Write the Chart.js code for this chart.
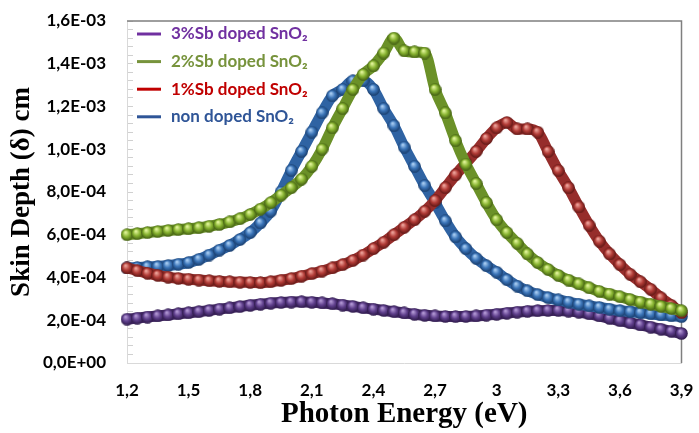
<!DOCTYPE html>
<html>
<head>
<meta charset="utf-8">
<title>Skin Depth vs Photon Energy</title>
<script src="https://cdn.jsdelivr.net/npm/chart.js@4.4.0/dist/chart.umd.min.js"></script>
<style>
  html, body { margin: 0; padding: 0; background: #fff; }
  canvas { display: block; }
</style>
</head>
<body>
<canvas id="skinChart" width="699" height="433"></canvas>
<script>
// Photon energy (eV)
const energy = [1.2, 1.25, 1.3, 1.35, 1.4, 1.45, 1.5, 1.55, 1.6, 1.65, 1.7, 1.75, 1.8, 1.85, 1.9, 1.95,
    2.0, 2.05, 2.1, 2.15, 2.2, 2.25, 2.3, 2.35, 2.4, 2.45, 2.5, 2.55, 2.6, 2.65, 2.7, 2.75, 2.8, 2.85,
    2.9, 2.95, 3.0, 3.05, 3.1, 3.15, 3.2, 3.25, 3.3, 3.35, 3.4, 3.45, 3.5, 3.55, 3.6, 3.65, 3.7, 3.75,
    3.8, 3.85, 3.9];

// Skin depth, in units of 1E-04 cm
const sb3 = [2.05, 2.10, 2.15, 2.20, 2.25, 2.30, 2.35, 2.40, 2.46, 2.52, 2.58, 2.64, 2.70, 2.75, 2.80, 2.83,
    2.85, 2.86, 2.84, 2.81, 2.77, 2.71, 2.65, 2.58, 2.52, 2.46, 2.40, 2.34, 2.28, 2.23, 2.20, 2.18, 2.17, 2.18,
    2.20, 2.24, 2.28, 2.33, 2.38, 2.42, 2.45, 2.46, 2.46, 2.43, 2.38, 2.30, 2.20, 2.09, 1.98, 1.88, 1.78, 1.68,
    1.58, 1.48, 1.38];
const sb2 = [6.00, 6.05, 6.10, 6.15, 6.20, 6.24, 6.28, 6.33, 6.40, 6.48, 6.60, 6.75, 6.95, 7.20, 7.50, 7.85,
    8.20, 8.60, 9.20, 10.0, 11.0, 11.9, 12.8, 13.5, 13.9, 14.5, 15.2, 14.6, 14.55, 14.5, 12.8, 11.7, 10.4, 9.3,
    8.4, 7.5, 6.7, 6.1, 5.6, 5.1, 4.7, 4.38, 4.1, 3.88, 3.7, 3.52, 3.35, 3.22, 3.1, 2.97, 2.85, 2.75,
    2.65, 2.55, 2.45];
const sb1 = [4.45, 4.32, 4.20, 4.10, 4.02, 3.96, 3.92, 3.88, 3.85, 3.82, 3.80, 3.78, 3.77, 3.76, 3.80, 3.87,
    3.95, 4.06, 4.18, 4.30, 4.45, 4.60, 4.80, 5.05, 5.35, 5.65, 6.00, 6.35, 6.70, 7.10, 7.60, 8.20, 8.80, 9.35,
    9.90, 10.5, 11.0, 11.25, 10.95, 10.95, 10.8, 9.9, 9.0, 8.2, 7.3, 6.45, 5.7, 5.1, 4.6, 4.15, 3.8, 3.45,
    3.05, 2.7, 2.35];
const nonDoped = [4.45, 4.47, 4.50, 4.52, 4.56, 4.62, 4.70, 4.85, 5.05, 5.28, 5.50, 5.78, 6.10, 6.55, 7.10, 8.00,
    9.00, 9.90, 10.8, 11.7, 12.5, 12.8, 13.2, 13.2, 12.8, 11.9, 11.1, 10.1, 9.2, 8.3, 7.5, 6.65, 5.9, 5.35,
    4.9, 4.55, 4.25, 3.9, 3.6, 3.38, 3.2, 3.06, 2.95, 2.85, 2.75, 2.67, 2.6, 2.52, 2.45, 2.40, 2.35, 2.30,
    2.25, 2.21, 2.17];

const seriesLabels = ['3%Sb doped SnO\u2082', '2%Sb doped SnO\u2082', '1%Sb doped SnO\u2082', 'non doped SnO\u2082'];

const xTickValues = [1.2, 1.5, 1.8, 2.1, 2.4, 2.7, 3.0, 3.3, 3.6, 3.9];
const xTickLabels = ['1,2', '1,5', '1,8', '2,1', '2,4', '2,7', '3', '3,3', '3,6', '3,9'];
const yTickValues = [0, 2, 4, 6, 8, 10, 12, 14, 16];
const yTickLabels = ['0,0E+00', '2,0E-04', '4,0E-04', '6,0E-04', '8,0E-04', '1,0E-03', '1,2E-03', '1,4E-03', '1,6E-03'];

// Small shaded sphere used as the marker
function bead(light, base, dark) {
    const c = document.createElement('canvas');
    c.width = 13;
    c.height = 13;
    const g = c.getContext('2d');
    const grad = g.createRadialGradient(5, 4, 0.5, 6.5, 6.5, 6.5);
    grad.addColorStop(0, light);
    grad.addColorStop(0.5, base);
    grad.addColorStop(1, dark);
    g.fillStyle = grad;
    g.beginPath();
    g.arc(6.5, 6.5, 6.3, 0, Math.PI * 2);
    g.fill();
    return c;
}

function makeSeries(label, values, legendColor, lineColor, marker, order) {
    return {
        label: label,
        data: energy.map((x, i) => ({ x: x, y: values[i] })),
        showLine: true,
        borderColor: lineColor,
        borderWidth: 11,
        cubicInterpolationMode: 'monotone',
        pointStyle: marker,
        pointRadius: 6.5,
        legendColor: legendColor,
        order: order,
        clip: false
    };
}

// Frame on the top and right of the plot area
const framePlugin = {
    id: 'frame',
    beforeDatasetsDraw(chart) {
        const { ctx, chartArea: a } = chart;
        ctx.save();
        ctx.strokeStyle = '#7f7f7f';
        ctx.lineWidth = 1.5;
        ctx.beginPath();
        ctx.moveTo(a.left, a.top);
        ctx.lineTo(a.right, a.top);
        ctx.lineTo(a.right, a.bottom);
        ctx.stroke();
        ctx.restore();
    }
};

// Legend inside the plot, top left, text in the series colour
const insideLegend = {
    id: 'insideLegend',
    afterDatasetsDraw(chart) {
        const { ctx, chartArea: a } = chart;
        ctx.save();
        ctx.font = 'bold 17px Lato';
        ctx.textBaseline = 'middle';
        ctx.textAlign = 'left';
        chart.data.datasets.forEach((ds, i) => {
            const y = a.top + 13 + i * 27.6;
            ctx.strokeStyle = ds.legendColor;
            ctx.lineWidth = 3;
            ctx.beginPath();
            ctx.moveTo(a.left + 10, y);
            ctx.lineTo(a.left + 34, y);
            ctx.stroke();
            ctx.fillStyle = ds.legendColor;
            ctx.fillText(ds.label, a.left + 44, y);
        });
        ctx.restore();
    }
};

const tickFont = { family: 'Lato', weight: 'bold', size: 17 };

new Chart(document.getElementById('skinChart'), {
    type: 'scatter',
    data: {
        datasets: [
            makeSeries(seriesLabels[0], sb3, '#7030a0', '#452a66', bead('#b49ad6', '#5f3f8c', '#2a1745'), 3),
            makeSeries(seriesLabels[1], sb2, '#77933c', '#6b9128', bead('#e2f59a', '#86b22f', '#3d5810'), 0),
            makeSeries(seriesLabels[2], sb1, '#c00000', '#962d2b', bead('#eea59c', '#b23b36', '#5a1513'), 1),
            makeSeries(seriesLabels[3], nonDoped, '#2f5597', '#2f63a3', bead('#a9cdf2', '#3a74b8', '#173a68'), 2)
        ]
    },
    options: {
        responsive: false,
        animation: false,
        events: [],
        layout: { padding: { left: 0, top: 21, right: 14, bottom: 0 } },
        scales: {
            x: {
                type: 'linear',
                min: 1.2,
                max: 3.9,
                afterBuildTicks: scale => { scale.ticks = xTickValues.map(v => ({ value: v })); },
                afterFit: scale => {
                    scale.height = 70;
                    scale.paddingLeft = 0;
                    scale.paddingRight = 0;
                },
                ticks: {
                    autoSkip: false,
                    maxRotation: 0,
                    padding: 17,
                    color: '#000',
                    font: tickFont,
                    callback: (value, index) => xTickLabels[index]
                },
                grid: { drawOnChartArea: false, drawTicks: false },
                border: { color: '#d9d9d9', width: 1 },
                title: {
                    display: true,
                    text: 'Photon Energy (eV)',
                    color: '#000',
                    font: { family: 'Liberation Serif', weight: 'bold', size: 29 },
                    padding: { top: 0, bottom: 1 }
                }
            },
            y: {
                min: 0,
                max: 16,
                afterBuildTicks: scale => {
                    const ticks = [];
                    for (let v = 0; v <= 16.001; v += 0.4) ticks.push({ value: Math.round(v * 10) / 10 });
                    scale.ticks = ticks;
                },
                afterFit: scale => {
                    scale.width = 127;
                    scale.paddingTop = 0;
                    scale.paddingBottom = 0;
                },
                ticks: {
                    autoSkip: false,
                    padding: 27,
                    color: '#000',
                    font: tickFont,
                    callback: value => {
                        const i = yTickValues.indexOf(value);
                        return i >= 0 ? yTickLabels[i] : '';
                    }
                },
                grid: { drawOnChartArea: false, drawTicks: true, tickLength: -6, tickColor: '#d0d0d0' },
                border: { color: '#d9d9d9', width: 1 },
                title: {
                    display: true,
                    text: 'Skin Depth (\u03b4) cm',
                    color: '#000',
                    font: { family: 'Liberation Serif', weight: 'bold', size: 27 },
                    padding: { top: 6, bottom: 0 }
                }
            }
        },
        plugins: {
            tooltip: { enabled: false },
            legend: { display: false }
        }
    },
    plugins: [framePlugin, insideLegend]
});
</script>
</body>
</html>
